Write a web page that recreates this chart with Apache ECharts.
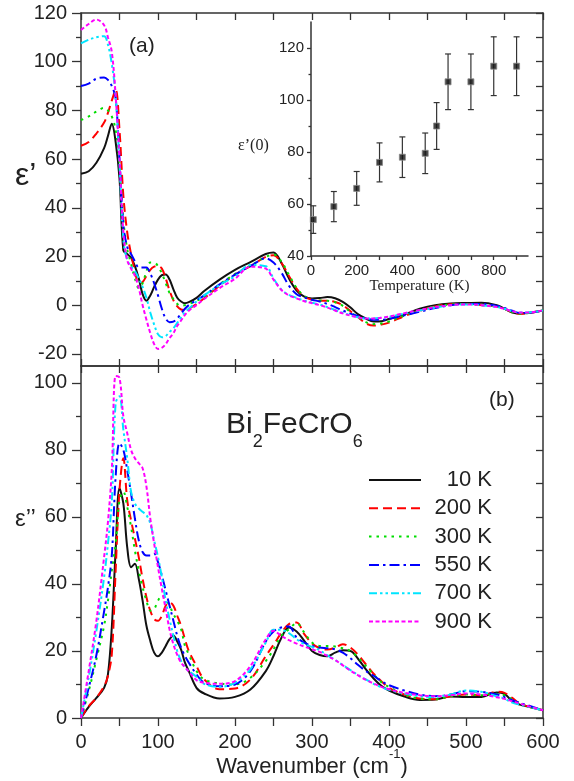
<!DOCTYPE html>
<html lang="en">
<head>
<meta charset="UTF-8">
<title>Bi2FeCrO6 dielectric function</title>
<script src="https://cdn.jsdelivr.net/npm/echarts@6/dist/echarts.min.js"></script>
<style>
  html, body { margin: 0; padding: 0; background: #fff; }
  #main { width: 574px; height: 781px; }
</style>
</head>
<body>
<div id="main"></div>
<script>
// wavenumber grid (cm-1) shared by all spectra
var wavenumber = [0, 10, 20, 30, 35, 40, 45, 50, 55, 60, 65, 70, 75, 80, 85, 90, 95, 100, 105, 110,
    115, 120, 125, 130, 135, 140, 150, 160, 180, 200, 220, 240, 250, 260, 270, 280, 290, 300, 310, 320,
    330, 340, 350, 360, 370, 380, 390, 400, 420, 440, 460, 480, 500, 520, 540, 550, 560, 570, 580, 600];
var temperatures = ['10 K', '200 K', '300 K', '550 K', '700 K', '900 K'];

// (a) real part eps'
var epsReal10 = [54, 55, 58.5, 64.5, 69.5, 74.5, 67, 52, 22.5, 21,
    19.5, 16, 11, 4.5, 1.8, 4, 7.5, 10.5, 12.3, 12.6,
    10.5, 6.5, 3, 1.5, 0.8, 1.2, 3, 5.8, 10.5, 14.5,
    17.7, 21, 21.6, 17.5, 11, 6, 3.5, 2.7, 2.9, 3.3,
    2.8, 1.3, -1, -3.8, -5.5, -6.7, -6.6, -5.7, -3.8, -1.5,
    0, 0.7, 0.9, 1.0, 0, -1.5, -3, -3.4, -3.2, -2.2];
var epsReal200 = [65.5, 67, 70.5, 75, 79, 84, 88.5, 72, 45, 30,
    21, 14, 9, 9.5, 12, 14.5, 15.8, 16, 15, 11,
    6, 2, -0.5, -1.8, -2, -1.5, 0.5, 2.8, 8, 12.5,
    16, 19.8, 20.5, 17.5, 12, 6.8, 3.5, 2.2, 1.8, 1.8,
    1.3, 0, -2.5, -5, -7.5, -8.4, -8, -7.2, -4.5, -2.3,
    -0.5, 0.4, 0.5, 0, -0.5, -1.5, -2.8, -3.5, -3.3, -2.2];
var epsReal300 = [76, 77.5, 79.5, 81, 80, 77.5, 72, 58, 35, 23,
    17, 11, 7, 9, 14, 17.5, 17.5, 16, 13, 9,
    5, 2.5, 0.5, -0.3, 0, 0.5, 1.8, 3.5, 8.5, 12.8,
    16.2, 19.8, 20.8, 18, 12.5, 7, 3.8, 2.3, 1.9, 1.8,
    1.2, -0.3, -2.8, -5, -7, -7.8, -7.5, -6.7, -4.3, -2.2,
    -0.5, 0.3, 0.5, 0, -0.5, -1.5, -2.8, -3.5, -3.3, -2.2];
var epsReal550 = [90, 91, 93, 93.5, 92.5, 90, 85, 60, 33, 24,
    21, 18, 15.5, 15.5, 15.5, 13, 9, 4, -1.5, -5.5,
    -7, -6.8, -5.5, -3.5, -1.5, 0, 2, 4, 8.5, 12.5,
    16, 19.2, 17.5, 13.5, 8, 4.5, 3.2, 2.2, 1.5, 0.5,
    -0.8, -2.2, -3.5, -4.5, -5.5, -6, -6, -5.6, -4.2, -2.7,
    -1.2, 0, 0.5, 0.5, -0.3, -1.2, -2.3, -3.2, -3.2, -2.2];
var epsReal700 = [107.5, 109, 110, 110.5, 107, 99, 86, 58, 27, 18.5,
    16, 14, 11, 7.5, 3, -3, -8, -12, -13.2, -12.7,
    -11, -9.5, -7.3, -5, -2.8, -1.5, 1.5, 4, 8.3, 11.8,
    16.5, 16, 11, 6.5, 4.2, 3, 1.8, 1, 0.2, -0.8,
    -2, -3.2, -4.2, -5, -5.5, -5.5, -5.2, -4.8, -3.5, -2.2,
    -1, 0, 0.3, 0, -0.8, -1.5, -2.5, -3, -3, -2.2];
var epsReal900 = [113, 115.5, 117.3, 115, 110, 104, 86, 60, 30, 18.5,
    15, 12, 7, 0, -6, -11.5, -16, -18, -17.5, -16,
    -13.5, -11.5, -8.5, -6.3, -4, -2.3, 0, 2.5, 7, 10.8,
    15.8, 15, 10.5, 6.3, 4, 2.8, 1.6, 0.8, 0, -1,
    -2.2, -3.4, -4.3, -5, -5.5, -5.5, -5.2, -4.7, -3.3, -2,
    -0.8, 0, 0.3, 0, -0.8, -1.5, -2.5, -3, -3, -2.2];

// (b) imaginary part eps''
var epsImag10 = [0, 3.3, 6, 9, 13, 27, 50, 68.5, 64, 51,
    45, 46, 41.5, 35, 27.5, 23, 19.5, 18.4, 19.5, 21.5,
    23.5, 24.6, 22.8, 20.4, 16.5, 14, 9, 7.3, 5.8, 6.3,
    8.5, 14, 18.5, 23.8, 27, 25.8, 23, 20, 18.8, 18.4,
    19.5, 20.2, 20, 17.6, 14.5, 11.8, 9.6, 8.2, 6.4, 5.4,
    5.5, 6.4, 6.3, 6.3, 7.6, 7.2, 5, 4, 3.4, 2.3];
var epsImag200 = [0, 3.5, 6, 9.5, 12.5, 19, 44, 68, 77.5, 65,
    59, 53.5, 48, 41.5, 36, 32, 29.5, 29, 30.5, 33.5,
    34.5, 33.5, 30.5, 27.5, 23.5, 20, 15.5, 11.5, 8.6, 8.8,
    11.5, 18.5, 21.8, 25.3, 28, 28.5, 25, 22.3, 20.8, 20.4,
    21, 22, 21, 18.8, 16, 13.2, 11, 9, 7, 5.8,
    5.6, 6.5, 7, 6.8, 7.8, 7.5, 6, 4.3, 3.5, 2.3];
var epsImag300 = [0, 8, 17.5, 27.5, 35, 44, 52, 65, 67.5, 63,
    57, 50, 44, 39, 35, 32, 32.5, 35, 36.5, 35.5,
    33.5, 31, 29, 26.5, 21.5, 19, 14, 11.5, 10.3, 10,
    12, 17, 20.5, 24.5, 26.5, 28.3, 25.5, 22.5, 21.5, 21.5,
    21.3, 20.8, 20, 18, 15.5, 13, 10.7, 9.3, 7, 5.8,
    5.6, 6.5, 7, 6.8, 7.2, 6.8, 5.5, 4.3, 3.5, 2.3];
var epsImag550 = [0, 9, 18.8, 31.8, 39, 48.5, 72, 82, 80, 74,
    67, 59.5, 53, 49.5, 48.5, 48.5, 49, 46.5, 42.5, 38,
    33.5, 29, 24.5, 21, 18.5, 16.5, 13, 10.5, 9.5, 10,
    14, 22.8, 25.8, 27, 27.3, 24, 22.5, 21.5, 21, 20.8,
    20.5, 19.5, 17.8, 15.8, 14, 12.6, 11, 9.8, 8.2, 7,
    6.5, 7, 8, 7.8, 7, 6.2, 5.3, 4.5, 3.8, 2.3];
var epsImag700 = [0, 12, 26, 42, 52, 64.5, 94, 96, 86, 77.5,
    67.5, 64, 62.5, 61.5, 60.5, 58, 53, 48, 42, 35,
    29.5, 24.5, 20, 17, 15, 14, 12.3, 10.2, 9.3, 10.5,
    14.5, 22.5, 26.3, 26.3, 25.3, 23.5, 22, 21.2, 20.2, 18.7,
    17.3, 15.8, 14.3, 12.8, 11.5, 10.2, 9.2, 8.4, 7.3, 6.5,
    6.3, 7, 8.2, 7.8, 6.5, 5.8, 4.6, 4, 3.4, 2.3];
var epsImag900 = [0, 14, 29, 48, 58.5, 74, 102, 101.5, 90, 85,
    80, 77.5, 76, 74.5, 69, 59.5, 52, 45, 38.5, 32.5,
    26.4, 22, 18.8, 16.5, 15.2, 13.8, 11.3, 10.5, 10.2, 11,
    15.5, 23.5, 26, 24.5, 23.2, 22.2, 21.3, 20.5, 19.7, 18.5,
    17.3, 15.7, 14.1, 12.7, 11.4, 10.3, 9.3, 8.6, 7.5, 6.8,
    6.5, 6.8, 7.3, 7, 6.2, 5.7, 5, 4.3, 3.6, 2.3];

// inset: static permittivity vs temperature
var tempK = [10, 100, 200, 300, 400, 500, 550, 600, 700, 800, 900];
var eps0 = [54, 59, 66, 76, 78, 79.5, 90, 107, 107, 113, 113];
var eps0Err = [5.3, 5.8, 6.5, 7.5, 7.8, 7.8, 9, 10.7, 10.7, 11.3, 11.3];

var realSets = [epsReal10, epsReal200, epsReal300, epsReal550, epsReal700, epsReal900];
var imagSets = [epsImag10, epsImag200, epsImag300, epsImag550, epsImag700, epsImag900];
var colors = ['#111111', '#ff0000', '#00dd00', '#0000ff', '#00e5ff', '#ff00ff'];
var dashes = ['solid', [9, 5], [2.5, 5], [10, 4, 2.5, 4], [8, 3, 2.5, 3, 2.5, 3], [4, 2.5]];

var sans = '"Liberation Sans", Arial, sans-serif';
var serif = '"Liberation Serif", "Times New Roman", serif';
var axisColor = '#333';

function range(a, b, step) {
    var out = [];
    for (var v = a; v <= b + 1e-9; v += step) out.push(Math.round(v * 1000) / 1000);
    return out;
}
function pairs(xs, ys) {
    return xs.map(function (x, i) { return [x, ys[i]]; });
}
// one axis edge: line + ticks, labels optional
function edge(grid, pos, min, max, ticks, tickLen, inside, labels, extra) {
    var ax = {
        type: 'value', gridIndex: grid, position: pos, min: min, max: max,
        axisLine: { show: true, onZero: false, lineStyle: { color: axisColor, width: 1.5 } },
        axisTick: { show: true, inside: inside, length: tickLen, customValues: ticks,
            lineStyle: { color: axisColor, width: 1.3 } },
        axisLabel: labels ? { show: true, customValues: labels, color: '#222',
            fontFamily: sans, fontSize: 20, margin: 14 } : { show: false },
        splitLine: { show: false }
    };
    if (extra) {
        for (var k in extra) {
            if (typeof extra[k] === 'object' && ax[k] && !Array.isArray(extra[k])) {
                for (var j in extra[k]) ax[k][j] = extra[k][j];
            } else {
                ax[k] = extra[k];
            }
        }
    }
    return ax;
}

var xAxes = [
    edge(0, 'bottom', 0, 600, range(0, 600, 50), 7, true, null),
    edge(0, 'top', 0, 600, range(0, 600, 50), 7, true, null),
    edge(1, 'bottom', 0, 600, range(0, 600, 50), 8, false, range(0, 600, 100), {
        name: '{a|Wavenumber (cm}{b|-1}{a|)}',
        nameLocation: 'middle', nameGap: 30, nameMoveOverlap: false,
        nameTextStyle: { rich: {
            a: { fontFamily: sans, fontSize: 22, color: '#222', lineHeight: 30, verticalAlign: 'bottom' },
            b: { fontFamily: sans, fontSize: 13, color: '#222', lineHeight: 13, verticalAlign: 'top' }
        } }
    }),
    edge(1, 'top', 0, 600, range(0, 600, 50), 7, true, null),
    edge(2, 'bottom', 0, 950, range(0, 900, 100), 4, false, range(0, 800, 200), {
        axisLabel: { fontSize: 15, margin: 7 },
        name: 'Temperature (K)', nameLocation: 'middle', nameGap: 23,
        nameTextStyle: { fontFamily: serif, fontSize: 15, color: '#222' }
    })
];
var yAxes = [
    edge(0, 'left', -25, 120, range(-20, 120, 20), 9, false, range(-20, 120, 20)),
    edge(0, 'left', -25, 120, range(-10, 110, 20), 5, false, null, { axisLine: { show: false } }),
    edge(0, 'right', -25, 120, range(-20, 120, 10), 7, true, null),
    edge(1, 'left', 0, 105, range(0, 100, 20), 9, false, range(0, 100, 20)),
    edge(1, 'left', 0, 105, range(10, 90, 20), 5, false, null, { axisLine: { show: false } }),
    edge(1, 'right', 0, 105, range(0, 100, 10), 7, true, null),
    edge(2, 'left', 40, 130, range(40, 120, 20), 4, false, range(40, 120, 20), {
        axisLabel: { fontSize: 15, margin: 7 }
    }),
    edge(2, 'left', 40, 130, range(50, 110, 20), 2.5, false, null, { axisLine: { show: false } })
];

var series = [];
temperatures.forEach(function (name, i) {
    var style = { color: colors[i], width: 2, type: dashes[i] };
    series.push({
        name: name, type: 'line', xAxisIndex: 0, yAxisIndex: 0,
        data: pairs(wavenumber, realSets[i]), symbol: 'none', smooth: 0.35,
        lineStyle: style, itemStyle: { color: colors[i] }
    });
    series.push({
        name: name, type: 'line', xAxisIndex: 2, yAxisIndex: 3,
        data: pairs(wavenumber, imagSets[i]), symbol: 'none', smooth: 0.35,
        lineStyle: style, itemStyle: { color: colors[i] }
    });
});

// error bars of the inset
series.push({
    type: 'custom', xAxisIndex: 4, yAxisIndex: 6,
    data: tempK.map(function (t, i) { return [t, eps0[i] - eps0Err[i], eps0[i] + eps0Err[i]]; }),
    encode: { x: 0, y: [1, 2] },
    renderItem: function (params, api) {
        var lo = api.coord([api.value(0), api.value(1)]);
        var hi = api.coord([api.value(0), api.value(2)]);
        var cap = 3;
        var st = { stroke: '#333', lineWidth: 1.2 };
        return {
            type: 'group',
            children: [
                { type: 'line', shape: { x1: lo[0], y1: lo[1], x2: hi[0], y2: hi[1] }, style: st },
                { type: 'line', shape: { x1: lo[0] - cap, y1: lo[1], x2: lo[0] + cap, y2: lo[1] }, style: st },
                { type: 'line', shape: { x1: hi[0] - cap, y1: hi[1], x2: hi[0] + cap, y2: hi[1] }, style: st }
            ]
        };
    },
    z: 3
});
series.push({
    type: 'scatter', xAxisIndex: 4, yAxisIndex: 6,
    data: pairs(tempK, eps0), symbol: 'rect', symbolSize: 6,
    itemStyle: { color: '#111', borderColor: '#888', borderWidth: 1 }, z: 4
});

var option = {
    animation: false,
    backgroundColor: '#fff',
    grid: [
        { left: 81, top: 13, width: 462, height: 353 },
        { left: 81, top: 366, width: 462, height: 352 },
        { left: 311, top: 22, width: 217, height: 234 }
    ],
    xAxis: xAxes,
    yAxis: yAxes,
    legend: {
        data: temperatures, orient: 'vertical', left: 363, top: 464,
        itemWidth: 52, itemHeight: 2, itemGap: 6.3, selectedMode: false,
        itemStyle: { opacity: 0 },
        formatter: function (name) { return '{t|' + name + '}'; },
        textStyle: { rich: { t: { width: 66, align: 'right', fontFamily: sans, fontSize: 22,
            color: '#222', lineHeight: 24 } } }
    },
    graphic: [
        { type: 'text', left: 129, top: 36, style: { text: '(a)', fontFamily: sans, fontSize: 21, fill: '#222' } },
        { type: 'text', left: 489, top: 390, style: { text: '(b)', fontFamily: sans, fontSize: 21, fill: '#222' } },
        { type: 'text', left: 226, top: 410, style: {
            text: '{n|Bi}{s|2}{n|FeCrO}{s|6}',
            rich: {
                n: { fontFamily: sans, fontSize: 30, fill: '#222', lineHeight: 30, verticalAlign: 'top' },
                s: { fontFamily: sans, fontSize: 18, fill: '#222', lineHeight: 64, verticalAlign: 'middle' }
            }
        } },
        { type: 'text', left: 15, top: 160, style: { text: 'ε’', fontFamily: sans, fontSize: 32, fill: '#222' } },
        { type: 'text', left: 15, top: 507, style: { text: 'ε’’', fontFamily: sans, fontSize: 24, fill: '#222' } },
        { type: 'text', left: 238, top: 138, style: { text: 'ε’(0)', fontFamily: serif, fontSize: 16, fill: '#222' } }
    ],
    series: series
};

echarts.init(document.getElementById('main'), null, { renderer: 'canvas' }).setOption(option);
</script>
</body>
</html>
